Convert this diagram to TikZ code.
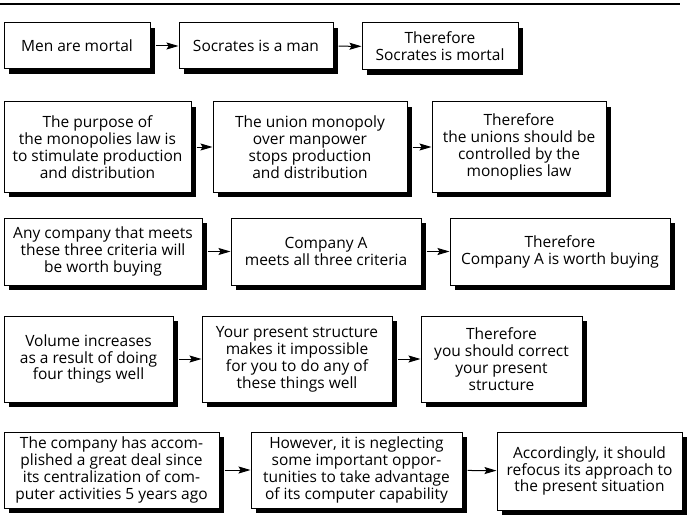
\documentclass[tikz,border=0pt]{standalone}
\usepackage{fontspec}
\setmainfont{Open Sans}
\usetikzlibrary{arrows.meta}

% a box with its black shadow below and to the right
\newcommand{\DrawBox}[6]{
    \fill[black] ({#2-#4/2+5},{#3-#5/2+5}) rectangle ({#2+#4/2+5},{#3+#5/2+5});
    \node[box, minimum width=#4pt, minimum height=#5pt] (#1) at (#2,#3) {#6};
}
% arrows from the first box to the second and from the second to the third
\newcommand{\DrawChain}[3]{
    \draw[link] (#1) -- (#2);
    \draw[link] (#2) -- (#3);
}

\begin{document}
\begin{tikzpicture}[
        x=1pt, y=-1pt,
        box/.style={draw, line width=1pt, fill=white, align=center, inner sep=2pt,
            font=\fontsize{15.5}{16.9}\selectfont},
        link/.style={-{Stealth[length=12pt, width=7pt, inset=2pt]}, line width=1pt, shorten <=5pt}
    ]
  \useasboundingbox (0,0) rectangle (690,524);
  % Rule along the top
  \draw[line width=1.2pt] (0,4) -- (680,4);

  %%% First row
  \DrawBox{m1}{77}{46}{146}{46}{Men are mortal}
  \DrawBox{m2}{256}{46}{154}{46}{Socrates is a man}
  \DrawBox{m3}{440}{46.5}{156}{47}{Therefore\\Socrates is mortal}
  \DrawChain{m1}{m2}{m3}

  %%% Second row
  \DrawBox{p1}{97.5}{147}{187}{90}{The purpose of\\the monopolies law is\\to stimulate production\\and distribution}
  \DrawBox{p2}{310}{147}{194}{90}{The union monopoly\\over manpower\\stops production\\and distribution}
  \DrawBox{p3}{519}{147}{174}{90}{Therefore\\the unions should be\\controlled by the\\monoplies law}
  \DrawChain{p1}{p2}{p3}

  %%% Third row
  \DrawBox{c1}{103}{251.5}{198}{67}{Any company that meets\\these three criteria will\\be worth buying}
  \DrawBox{c2}{326}{251.5}{190}{67}{Company A\\meets all three criteria}
  \DrawBox{c3}{560}{251.5}{220}{67}{Therefore\\Company A is worth buying}
  \DrawChain{c1}{c2}{c3}

  %%% Fourth row
  \DrawBox{v1}{88.5}{359}{169}{86}{Volume increases\\as a result of doing\\four things well}
  \DrawBox{v2}{297}{359}{190}{86}{Your present structure\\makes it impossible\\for you to do any of\\these things well}
  \DrawBox{v3}{501.5}{359}{161}{86}{Therefore\\you should correct\\your present\\structure}
  \DrawChain{v1}{v2}{v3}

  %%% Fifth row
  \DrawBox{f1}{111.5}{470}{215}{76}{The company has accom-\\plished a great deal since\\its centralization of com-\\puter activities 5 years ago}
  \DrawBox{f2}{356.5}{470}{211}{76}{However, it is neglecting\\some important oppor-\\tunities to take advantage\\of its computer capability}
  \DrawBox{f3}{589.5}{471}{185}{78}{Accordingly, it should\\refocus its approach to\\the present situation}
  \DrawChain{f1}{f2}{f3}
\end{tikzpicture}
\end{document}
